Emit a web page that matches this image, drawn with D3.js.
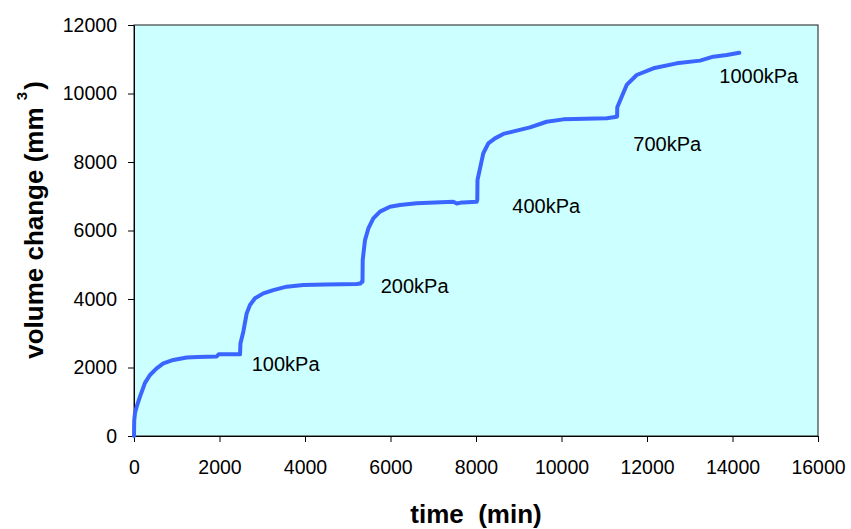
<!DOCTYPE html>
<html>
<head>
<meta charset="utf-8">
<script src="https://cdn.jsdelivr.net/npm/d3@7"></script>
<style>
  html, body { margin: 0; padding: 0; background: #ffffff; }
  svg { display: block; font-family: "Liberation Sans", Arial, Helvetica, sans-serif; }
</style>
</head>
<body>
<svg id="chart" width="851" height="529"></svg>
<script>
// Elapsed time of the consolidation test (min)
const timeMin = [
  0, 5, 23, 63, 140, 257, 374, 530, 686, 920, 1232, 1500, 1934, 1980, 2480,
  2490, 2557, 2636, 2713, 2830, 3025, 3259, 3571, 3960, 4500, 5209, 5300, 5326,
  5345, 5350, 5404, 5482, 5598, 5754, 5988, 6222, 6612, 7470, 7550, 7650, 7700, 8016,
  8030, 8035, 8094, 8171, 8288, 8444, 8639, 8952, 9263, 9653, 10043, 11058, 11292,
  11300, 11305, 11408, 11525, 11759, 12148, 12694, 13240, 13550, 13864, 14160
];
// Cumulative volume change (mm^3)
const volumeChange = [
  0, 450, 670, 855, 1150, 1550, 1780, 1975, 2120, 2220, 2290, 2310, 2320, 2385, 2385,
  2700, 3045, 3580, 3825, 4020, 4165, 4260, 4360, 4410, 4420, 4440, 4450, 4505,
  4505, 5140, 5720, 6060, 6355, 6550, 6695, 6745, 6795, 6840, 6790, 6815, 6820, 6840,
  6890, 7475, 7815, 8255, 8545, 8690, 8820, 8915, 9010, 9175, 9245, 9275, 9320,
  9330, 9600, 9905, 10250, 10540, 10735, 10880, 10960, 11075, 11125, 11190
];
// Load step annotations, anchored in data units (time, volume)
const stepLabels = ["100kPa", "200kPa", "400kPa", "700kPa", "1000kPa"];
const stepLabelTime = [2753, 5771, 8849, 11680, 13691];
const stepLabelVolume = [1900, 4184, 6502, 8321, 10315];

const xTicks = [0, 2000, 4000, 6000, 8000, 10000, 12000, 14000, 16000];
const yTicks = [0, 2000, 4000, 6000, 8000, 10000, 12000];

const margin = { left: 134, right: 33, top: 25, bottom: 93 };
const W = 851, H = 529;
const svg = d3.select("#chart");

const x = d3.scaleLinear().domain([0, 16000]).range([margin.left, W - margin.right]);
const y = d3.scaleLinear().domain([0, 12000]).range([H - margin.bottom, margin.top]);

// Plot area
svg.append("rect")
  .attr("x", x(0)).attr("y", y(12000))
  .attr("width", x(16000) - x(0)).attr("height", y(0) - y(12000))
  .attr("fill", "#ccffff")
  .attr("stroke", "#1a1a1a")
  .attr("stroke-width", 1);

// Axes
const xAxis = d3.axisBottom(x).tickValues(xTicks).tickFormat(d3.format("d"))
  .tickSizeInner(6).tickSizeOuter(0).tickPadding(18);
const yAxis = d3.axisLeft(y).tickValues(yTicks).tickFormat(d3.format("d"))
  .tickSizeInner(6).tickSizeOuter(0).tickPadding(11);

const gx = svg.append("g").attr("transform", `translate(0,${y(0)})`).call(xAxis);
const gy = svg.append("g").attr("transform", `translate(${x(0)},0)`).call(yAxis);
[gx, gy].forEach(g => {
  g.selectAll("text").attr("font-size", 19.5).attr("fill", "#000")
    .style("font-family", '"Liberation Sans", Arial, sans-serif');
  g.selectAll("line").attr("stroke", "#000");
  g.select(".domain").attr("stroke", "#000");
});

// Volume change curve
const pts = timeMin.map((t, i) => [t, volumeChange[i]]);
svg.append("path")
  .datum(pts)
  .attr("fill", "none")
  .attr("stroke", "#3a66ff")
  .attr("stroke-width", 4)
  .attr("stroke-linejoin", "round")
  .attr("stroke-linecap", "round")
  .attr("d", d3.line().x(d => x(d[0])).y(d => y(d[1])));

// Load step labels
svg.append("g").selectAll("text")
  .data(stepLabels)
  .join("text")
  .attr("x", (d, i) => x(stepLabelTime[i]))
  .attr("y", (d, i) => y(stepLabelVolume[i]))
  .attr("font-size", 20)
  .attr("fill", "#000")
  .text(d => d);

// Axis titles
svg.append("text")
  .attr("x", (x(0) + x(16000)) / 2)
  .attr("y", 523)
  .attr("text-anchor", "middle")
  .attr("font-size", 26)
  .attr("font-weight", "bold")
  .attr("fill", "#000")
  .attr("xml:space", "preserve")
  .text("time  (min)");

const yTitle = svg.append("text")
  .attr("transform", `translate(43,220) rotate(-90)`)
  .attr("text-anchor", "middle")
  .attr("font-size", 26)
  .attr("font-weight", "bold")
  .attr("fill", "#000");
yTitle.append("tspan").text("volume change (mm ");
yTitle.append("tspan").attr("dy", -16).attr("font-size", 15).text("3");
yTitle.append("tspan").attr("dy", 16).attr("dx", 2).text(")");
</script>
</body>
</html>
